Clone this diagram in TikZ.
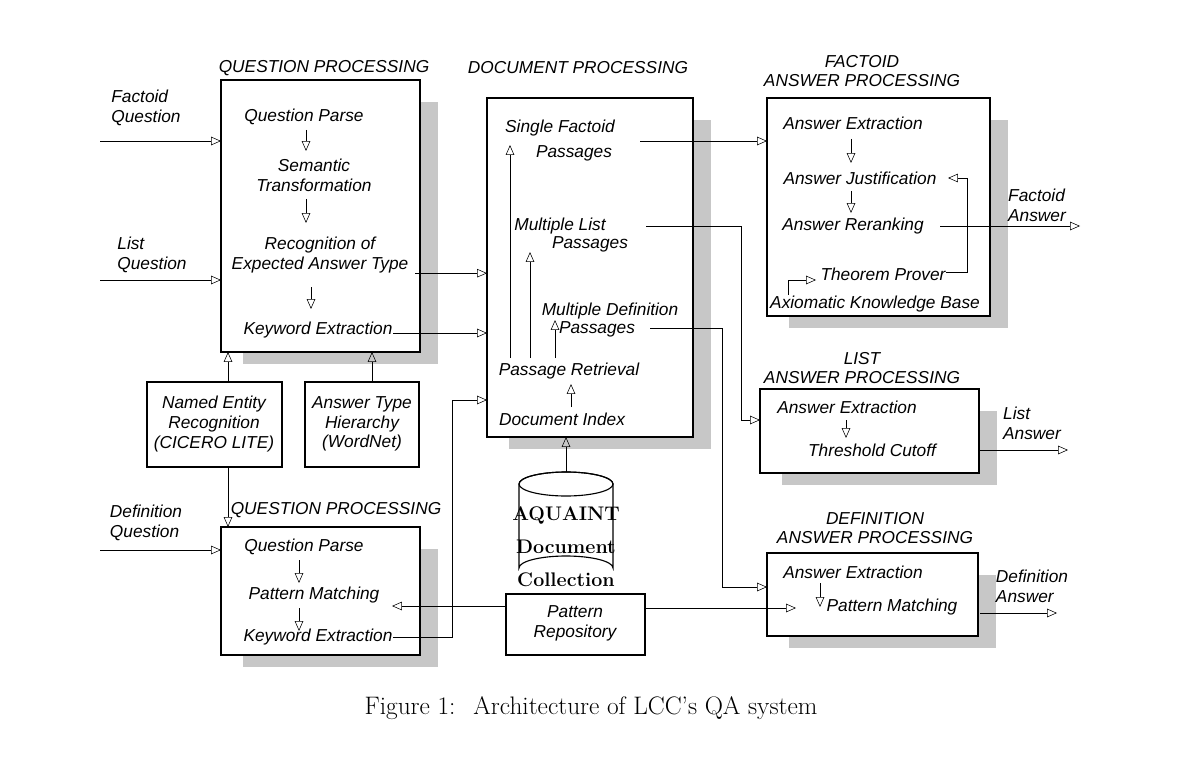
\documentclass[tikz,border=0pt]{standalone}
\usepackage{fontspec}
\setsansfont{Liberation Sans}
\usetikzlibrary{arrows.meta, positioning, shapes.geometric}
\colorlet{colorShadow}{black!22}
\tikzset{
  lbl/.style={font=\sffamily\itshape\fontsize{12.3}{14}\selectfont, inner sep=0pt, align=center},
  box/.style={draw, thick, fill=white},
  shadow/.style={fill=colorShadow},
  arr/.style={-{Triangle[open, length=7pt, width=6pt]}, thin},
  ln/.style={thin}
}
\newcommand{\shbox}[5]{% name, x1, y1, x2, y2
  \fill[shadow] (#2+22,#3+22) rectangle (#4+18,#5+12);
  \draw[box] (#2,#3) rectangle (#4,#5);
  \coordinate (#1-nw) at (#2,#3); \coordinate (#1-se) at (#4,#5);}
\begin{document}
\begin{tikzpicture}[x=0.025cm, y=-0.025cm]
\useasboundingbox (0,0) rectangle (1200,767);
% boxes
\shbox{qpa}{221}{80}{420}{352}
\shbox{dp}{487}{98}{693}{437}
\shbox{fap}{767}{98}{990}{316}
\shbox{lap}{760}{389}{979}{473}
\shbox{dap}{767}{553}{978}{636}
\shbox{qpb}{221}{527}{420}{655}
\draw[box] (147,382) rectangle (282,467);
\draw[box] (305,382) rectangle (419,467);
\draw[box] (506,594) rectangle (645,655);
% titles
\node[lbl] (tqpa) at (324,68) {QUESTION PROCESSING};
\node[lbl] (tdp) at (578,68) {DOCUMENT PROCESSING};
\node[lbl] (tfap) at (862,71) {FACTOID\\ANSWER PROCESSING};
\node[lbl] (tlap) at (862,368) {LIST\\ANSWER PROCESSING};
\node[lbl] (tdap) at (875,528) {DEFINITION\\ANSWER PROCESSING};
\node[lbl] (tqpb) at (336,510) {QUESTION PROCESSING};
% inputs
\node[lbl, align=left] (fq) at (146,108) {Factoid\\Question};
\node[lbl, align=left] (lq) at (152,255) {List\\Question};
\node[lbl, align=left] (dq) at (146,523) {Definition\\Question};
\coordinate (fqin) at (100,141);
\coordinate (lqin) at (100,280);
\coordinate (dqin) at (100,550);
\draw[arr] (fqin) -- (fqin-|qpa-nw);
\draw[arr] (lqin) -- (lqin-|qpa-nw);
\draw[arr] (dqin) -- (dqin-|qpb-nw);
% question processing (factoid / list)
\node[lbl] (qparse) at (304,117) {Question Parse};
\node[lbl] (semtr) at (314,175) {Semantic\\Transformation};
\node[lbl] (recog) at (320,255) {Recognition of\\Expected Answer Type};
\node[lbl] (kwa) at (318,330) {Keyword Extraction};
\draw[arr] (306,130) -- (306,151);
\draw[arr] (306,199) -- (306,223);
\draw[arr] (311,287) -- (311,309);
% resources
\node[lbl] (ner) at (214,424) {Named Entity\\Recognition\\(CICERO LITE)};
\node[lbl] (ath) at (362,424) {Answer Type\\Hierarchy\\(WordNet)};
\draw[arr] (228,382) -- (228,352);
\draw[arr] (372,382) -- (372,352);
\draw[arr] (228,467) -- (228,527);
% document processing
\node[lbl] (sfp) at (560,128) {Single Factoid};
\node[lbl] (sfp2) at (574,153) {Passages};
\node[lbl] (mlp) at (560,226) {Multiple List};
\node[lbl] (mlp2) at (590,244) {Passages};
\node[lbl] (mdp) at (610,311) {Multiple Definition};
\node[lbl] (mdp2) at (597,329) {Passages};
\node[lbl] (pret) at (569,371) {Passage Retrieval};
\node[lbl] (dind) at (562,419) {Document Index};
\draw[arr] (510,358) -- (510,145);
\draw[arr] (530,358) -- (530,252);
\draw[arr] (555,358) -- (555,320);
\draw[arr] (571,407) -- (571,384);
% collection
\draw[thick, fill=white] (519,484) -- (519,568) arc[start angle=180, end angle=360, x radius=47, y radius=12]
  -- (613,484) arc[start angle=0, end angle=-180, x radius=47, y radius=12];
\draw[thick] (566,484) ellipse[x radius=47, y radius=12];
\coordinate (aqctop) at (566,472);
\node[align=center, inner sep=0pt, font=\bfseries\fontsize{14}{23.5}\selectfont] (aqct) at (566,547) {AQUAINT\\Document\\Collection};
\draw[arr] (aqctop) -- (aqctop|-dp-se);
\draw[arr] (qpa-se|-recog.south) ++(-5,0) coordinate (ra) -- (ra-|dp-nw);
\draw[arr] (393,333) coordinate (ka) -- (ka-|dp-nw);
% factoid answer processing
\node[lbl] (fae) at (853,123) {Answer Extraction};
\node[lbl] (faj) at (860,178) {Answer Justification};
\node[lbl] (far) at (853,226) {Answer Reranking};
\node[lbl] (thp) at (883,274) {Theorem Prover};
\node[lbl] (akb) at (875,304) {Axiomatic Knowledge Base};
\draw[arr] (851,139) -- (851,163);
\draw[arr] (851,191) -- (851,213);
\draw[arr] (946,272) -- (967,272) -- (967,178) -- (948,178);
\draw[arr] (788,295) -- (788,280) -- (816,280);
\node[lbl, align=left] (fa) at (1037,205) {Factoid\\Answer};
\draw[arr] (940,226) -- (1080,226);
\draw[arr] (640,141) -- (767,141);
% list answer processing
\draw[arr] (646,226) -- (741,226) -- (741,420) -- (760,420);
\node[lbl] (lae) at (847,407) {Answer Extraction};
\node[lbl] (ltc) at (872,450) {Threshold Cutoff};
\draw[arr] (846,420) -- (846,438);
\node[lbl, align=left] (la) at (1032,423) {List\\Answer};
\draw[arr] (980,450) -- (1068,450);
% definition answer processing
\draw[arr] (650,328) -- (722,328) -- (722,587) -- (767,587);
\node[lbl] (dae) at (853,572) {Answer Extraction};
\node[lbl] (dpm) at (892,607) {Pattern Matching};
\draw[arr] (820,583) -- (820,607);
\node[lbl, align=left] (da) at (1032,586) {Definition\\Answer};
\draw[arr] (980,613) -- (1057,613);
% question processing (definition)
\node[lbl] (qparseb) at (304,547) {Question Parse};
\node[lbl] (pmb) at (314,595) {Pattern Matching};
\node[lbl] (kwb) at (318,637) {Keyword Extraction};
\draw[arr] (299,560) -- (299,583);
\draw[arr] (299,608) -- (299,631);
\draw[arr] (393,637) -- (452,637) -- (452,400) -- (487,400);
% pattern repository
\node[lbl] (prep) at (575,623) {Pattern\\Repository};
\draw[arr] (645,608) -- (796,608);
\draw[arr] (506,606) -- (392,606);
% caption
\node[font=\fontsize{18}{21}\selectfont, inner sep=0pt] (cap) at (591,708) {Figure 1:~ Architecture of LCC's QA system};
\end{tikzpicture}
\end{document}
